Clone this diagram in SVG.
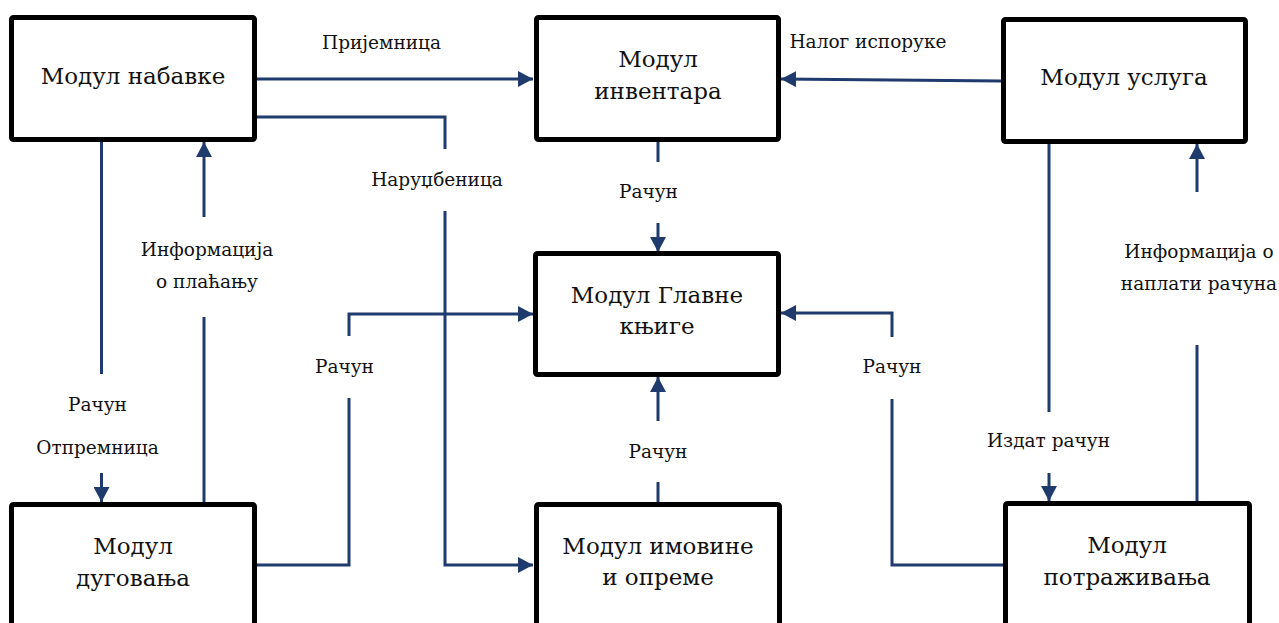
<svg xmlns="http://www.w3.org/2000/svg" width="1279" height="623" viewBox="0 0 1279 623">
<style>
.box{fill:#ffffff;stroke:#000000;stroke-width:5;stroke-linejoin:round}
.nt{font-family:"DejaVu Serif","Liberation Serif",serif;font-size:23px;fill:#111111;text-anchor:middle}
.lb{font-family:"DejaVu Serif","Liberation Serif",serif;font-size:18.5px;fill:#111111;text-anchor:middle}
.cn{fill:none;stroke:#1f3a6c;stroke-width:3;stroke-linejoin:miter}
</style>
<defs>
<marker id="ah" markerUnits="userSpaceOnUse" markerWidth="16" markerHeight="16" refX="15" refY="8" orient="auto">
<path d="M0,0 L15,8 L0,16 Z" fill="#1f3a6c"/>
</marker>
</defs>
<rect width="1279" height="623" fill="#ffffff"/>
<g id="connectors">
<path class="cn" d="M257,79 H533" marker-end="url(#ah)"/>
<path class="cn" d="M257,117 H445 V149"/>
<path class="cn" d="M445,211 V565 H533" marker-end="url(#ah)"/>
<path class="cn" d="M1002,81 L781,79" marker-end="url(#ah)"/>
<path class="cn" d="M658,142 V162"/>
<path class="cn" d="M658,223 V252" marker-end="url(#ah)"/>
<path class="cn" d="M101.5,142 V374"/>
<path class="cn" d="M101.5,473 V502" marker-end="url(#ah)"/>
<path class="cn" d="M204,503 V317"/>
<path class="cn" d="M204,217 V142" marker-end="url(#ah)"/>
<path class="cn" d="M257,565 H349 V398"/>
<path class="cn" d="M349,336 V314 H533" marker-end="url(#ah)"/>
<path class="cn" d="M658,502 V482"/>
<path class="cn" d="M658,421 V377" marker-end="url(#ah)"/>
<path class="cn" d="M1003,565 H892 V399"/>
<path class="cn" d="M892,337 V313 H781" marker-end="url(#ah)"/>
<path class="cn" d="M1049,144 V412"/>
<path class="cn" d="M1049,473 V501" marker-end="url(#ah)"/>
<path class="cn" d="M1197,501 V345"/>
<path class="cn" d="M1197,192 V144" marker-end="url(#ah)"/>
</g>
<g id="labels">
<text class="lb" x="381.5" y="49">Пријемница</text>
<text class="lb" x="868" y="48">Налог испоруке</text>
<text class="lb" x="437" y="186">Наруџбеница</text>
<text class="lb" x="648.5" y="198">Рачун</text>
<text class="lb" x="207" y="256">Информација</text>
<text class="lb" x="207" y="288">о плаћању</text>
<text class="lb" x="1199" y="258">Информација о</text>
<text class="lb" x="1199" y="290">наплати рачуна</text>
<text class="lb" x="97.5" y="411">Рачун</text>
<text class="lb" x="97.5" y="454">Отпремница</text>
<text class="lb" x="344.5" y="373">Рачун</text>
<text class="lb" x="892" y="373">Рачун</text>
<text class="lb" x="658" y="458">Рачун</text>
<text class="lb" x="1048.5" y="447">Издат рачун</text>
</g>
<g id="node-nabavke">
<rect class="box" x="11.5" y="17.5" width="243" height="122" rx="2"/>
<text class="nt" x="133" y="84">Модул набавке</text>
</g>
<g id="node-inventara">
<rect class="box" x="536.5" y="17.5" width="242" height="122" rx="2"/>
<text class="nt" x="658" y="67">Модул</text>
<text class="nt" x="658" y="99">инвентара</text>
</g>
<g id="node-usluga">
<rect class="box" x="1003.5" y="19.5" width="242" height="122" rx="2"/>
<text class="nt" x="1124" y="85">Модул услуга</text>
</g>
<g id="node-glavne">
<rect class="box" x="535.5" y="253.5" width="243" height="121" rx="2"/>
<text class="nt" x="657" y="303">Модул Главне</text>
<text class="nt" x="657" y="334">књиге</text>
</g>
<g id="node-dugovanja">
<rect class="box" x="11.5" y="504.5" width="243" height="140" rx="2"/>
<text class="nt" x="133" y="554">Модул</text>
<text class="nt" x="133" y="586">дуговања</text>
</g>
<g id="node-imovine">
<rect class="box" x="536.5" y="504.5" width="243" height="140" rx="2"/>
<text class="nt" x="658" y="554">Модул имовине</text>
<text class="nt" x="658" y="585">и опреме</text>
</g>
<g id="node-potrazivanja">
<rect class="box" x="1005.5" y="503.5" width="244" height="140" rx="2"/>
<text class="nt" x="1127" y="553">Модул</text>
<text class="nt" x="1127" y="585">потраживања</text>
</g>
</svg>
